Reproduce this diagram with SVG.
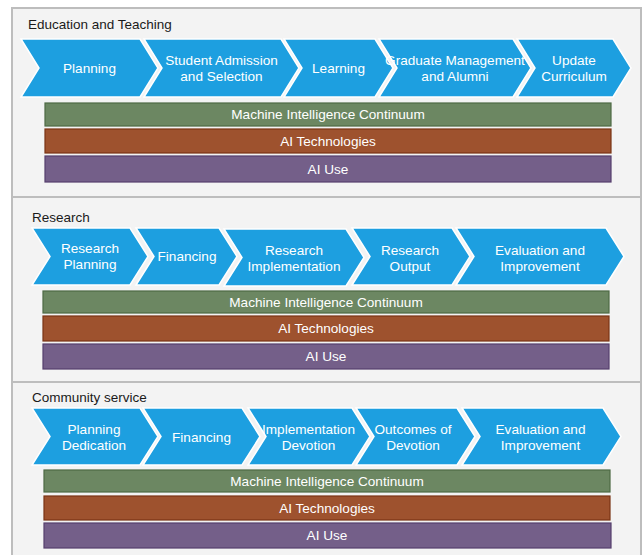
<svg xmlns="http://www.w3.org/2000/svg" width="642" height="555" viewBox="0 0 642 555">
<style>
.sec{fill:#f3f3f3;stroke:#bdbdbd;stroke-width:2}
.title{font-family:"Liberation Sans",Arial,sans-serif;font-size:13.5px;fill:#1a1a1a}
.chev{fill:#1d9fe0;stroke:#ffffff;stroke-width:1.5;stroke-linejoin:miter}
.ct{font-family:"Liberation Sans",Arial,sans-serif;font-size:13.6px;fill:#ffffff;text-anchor:middle}
.bt{font-family:"Liberation Sans",Arial,sans-serif;font-size:13.6px;fill:#ffffff;text-anchor:middle}
.mic{fill:#6c8762;stroke:#4d6944;stroke-width:1.2}
.ait{fill:#9e522e;stroke:#7a3414;stroke-width:1.2}
.aiu{fill:#745f89;stroke:#553f6d;stroke-width:1.2}
</style>
<rect width="642" height="555" fill="#ffffff"/>

<!-- Section 1 -->
<g id="section-education">
<rect class="sec" x="12" y="8" width="629" height="189"/>
<text class="title" x="28" y="29">Education and Teaching</text>
</g>
<g id="edu-planning"><path class="chev" d="M21,39 L140,39 L158,68 L140,97 L21,97 L39,68 Z"/><text class="ct" x="89.5" y="73">Planning</text></g>
<g id="edu-admission"><path class="chev" d="M144,39 L281,39 L299,68 L281,97 L144,97 L162,68 Z"/><text class="ct" x="221.5" y="65">Student Admission</text><text class="ct" x="221.5" y="81">and Selection</text></g>
<g id="edu-learning"><path class="chev" d="M284,39 L375,39 L393,68 L375,97 L284,97 L302,68 Z"/><text class="ct" x="338.5" y="73">Learning</text></g>
<g id="edu-graduate"><path class="chev" d="M379,39 L513,39 L531,68 L513,97 L379,97 L397,68 Z"/><text class="ct" x="455" y="65">Graduate Management</text><text class="ct" x="455" y="81">and Alumni</text></g>
<g id="edu-update"><path class="chev" d="M517,39 L613,39 L631,68 L613,97 L517,97 L535,68 Z"/><text class="ct" x="574" y="65">Update</text><text class="ct" x="574" y="81">Curriculum</text></g>
<g id="edu-mic"><rect class="mic" x="45" y="103" width="566" height="23"/><text class="bt" x="328" y="119">Machine Intelligence Continuum</text></g>
<g id="edu-ait"><rect class="ait" x="45" y="129" width="566" height="24"/><text class="bt" x="328" y="145.5">AI Technologies</text></g>
<g id="edu-aiu"><rect class="aiu" x="45" y="156" width="566" height="26"/><text class="bt" x="328" y="173.5">AI Use</text></g>

<!-- Section 2 -->
<g id="section-research">
<rect class="sec" x="12" y="197" width="629" height="185"/>
<text class="title" x="32" y="221.5">Research</text>
</g>
<g id="res-planning"><path class="chev" d="M32,228 L130,228 L148,256.5 L130,285 L32,285 L50,256.5 Z"/><text class="ct" x="90" y="253">Research</text><text class="ct" x="90" y="269">Planning</text></g>
<g id="res-financing"><path class="chev" d="M136,228 L219,228 L237,256.5 L219,285 L136,285 L154,256.5 Z"/><text class="ct" x="187" y="261">Financing</text></g>
<g id="res-implementation"><path class="chev" d="M224,229 L346,229 L364,257.5 L346,286 L224,286 L242,257.5 Z"/><text class="ct" x="294" y="254.5">Research</text><text class="ct" x="294" y="270.5">Implementation</text></g>
<g id="res-output"><path class="chev" d="M352,228 L452,228 L470,256.5 L452,285 L352,285 L370,256.5 Z"/><text class="ct" x="410" y="254.5">Research</text><text class="ct" x="410" y="270.5">Output</text></g>
<g id="res-evaluation"><path class="chev" d="M456,228 L606,228 L624,256.5 L606,285 L456,285 L474,256.5 Z"/><text class="ct" x="540" y="254.5">Evaluation and</text><text class="ct" x="540" y="270.5">Improvement</text></g>
<g id="res-mic"><rect class="mic" x="43" y="291" width="566" height="22"/><text class="bt" x="326" y="306.5">Machine Intelligence Continuum</text></g>
<g id="res-ait"><rect class="ait" x="43" y="316" width="566" height="25"/><text class="bt" x="326" y="333">AI Technologies</text></g>
<g id="res-aiu"><rect class="aiu" x="43" y="344" width="566" height="25"/><text class="bt" x="326" y="361">AI Use</text></g>

<!-- Section 3 -->
<g id="section-community">
<rect class="sec" x="12" y="382" width="629" height="180"/>
<text class="title" x="32" y="401.5">Community service</text>
</g>
<g id="com-planning"><path class="chev" d="M32,408 L140,408 L158,436.5 L140,465 L32,465 L50,436.5 Z"/><text class="ct" x="94" y="434">Planning</text><text class="ct" x="94" y="450">Dedication</text></g>
<g id="com-financing"><path class="chev" d="M143,408 L242,408 L260,436.5 L242,465 L143,465 L161,436.5 Z"/><text class="ct" x="201.5" y="441.5">Financing</text></g>
<g id="com-implementation"><path class="chev" d="M248,408 L352,408 L370,436.5 L352,465 L248,465 L266,436.5 Z"/><text class="ct" x="308.5" y="434">Implementation</text><text class="ct" x="308.5" y="450">Devotion</text></g>
<g id="com-outcomes"><path class="chev" d="M356,408 L457,408 L475,436.5 L457,465 L356,465 L374,436.5 Z"/><text class="ct" x="413" y="434">Outcomes of</text><text class="ct" x="413" y="450">Devotion</text></g>
<g id="com-evaluation"><path class="chev" d="M462,408 L603,408 L621,436.5 L603,465 L462,465 L480,436.5 Z"/><text class="ct" x="540.5" y="434">Evaluation and</text><text class="ct" x="540.5" y="450">Improvement</text></g>
<g id="com-mic"><rect class="mic" x="44" y="470" width="566" height="22"/><text class="bt" x="327" y="485.5">Machine Intelligence Continuum</text></g>
<g id="com-ait"><rect class="ait" x="44" y="496" width="566" height="24"/><text class="bt" x="327" y="512.5">AI Technologies</text></g>
<g id="com-aiu"><rect class="aiu" x="44" y="523" width="567" height="25"/><text class="bt" x="327" y="540">AI Use</text></g>

<g id="connectors"></g>
</svg>
